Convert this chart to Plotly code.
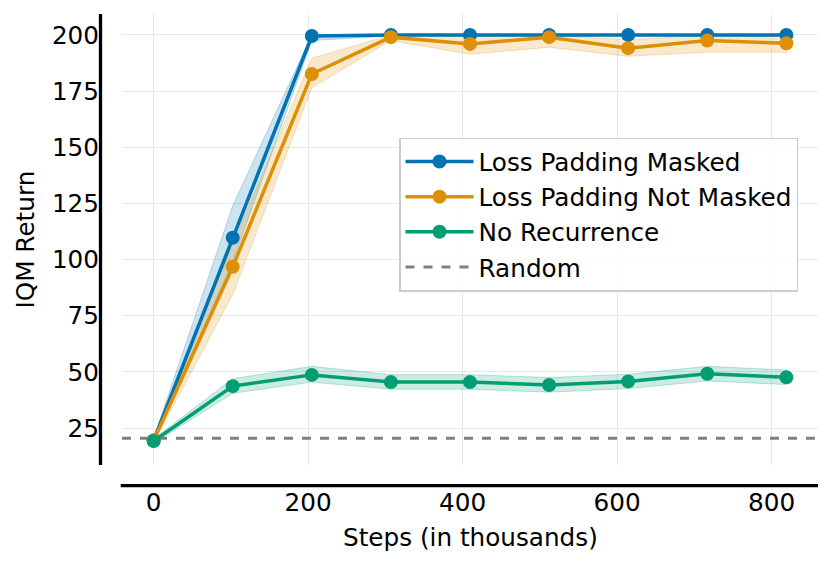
import plotly.graph_objects as go

steps = [0, 102.4, 204.8, 307.2, 409.6, 512.0, 614.4, 716.8, 819.2]

masked_mean = [19.5, 109.7, 199.5, 200.0, 200.0, 200.0, 200.0, 200.0, 200.0]
masked_low = [18.5, 99.0, 197.5, 199.5, 199.5, 199.5, 199.5, 199.5, 199.5]
masked_high = [20.5, 124.0, 200.0, 200.0, 200.0, 200.0, 200.0, 200.0, 200.0]

notmasked_mean = [19.5, 96.8, 182.6, 199.0, 196.0, 199.0, 194.1, 197.5, 196.3]
notmasked_low = [18.5, 84.5, 176.5, 197.5, 191.4, 194.5, 190.5, 192.3, 192.3]
notmasked_high = [20.5, 107.0, 189.6, 200.0, 199.4, 200.0, 197.8, 200.0, 200.0]

norec_mean = [19.3, 43.7, 48.7, 45.5, 45.5, 44.2, 45.8, 49.2, 47.6]
norec_low = [18.3, 40.5, 45.5, 42.3, 42.3, 41.0, 42.6, 46.0, 44.4]
norec_high = [20.3, 47.0, 52.5, 48.8, 48.8, 47.5, 49.0, 52.5, 50.9]

random_return = 20.5

x_ticks = [0, 200, 400, 600, 800]
y_ticks = [25, 50, 75, 100, 125, 150, 175, 200]

series = [
    ("Loss Padding Masked", masked_mean, masked_low, masked_high, (1, 115, 178)),
    ("Loss Padding Not Masked", notmasked_mean, notmasked_low, notmasked_high, (222, 143, 5)),
    ("No Recurrence", norec_mean, norec_low, norec_high, (2, 158, 115)),
]

FONT = "DejaVu Sans"
FS = 24.7
OFF = 8  # page body margin
W, H = 815, 549
L, R, T, B = 114, 5, 6, 92
PW, PH = W - L - R, H - T - B


def px_x(page_x):
    return (page_x - OFF - L) / PW


def px_y(page_y):
    return (H - B - (page_y - OFF)) / PH


fig = go.Figure()

# bands
for name, mean, low, high, c in series:
    fig.add_trace(go.Scatter(
        x=steps + steps[::-1], y=high + low[::-1],
        mode="lines", fill="toself",
        fillcolor=f"rgba({c[0]},{c[1]},{c[2]},0.2)",
        line=dict(color=f"rgba({c[0]},{c[1]},{c[2]},0.25)", width=1),
        showlegend=False, hoverinfo="skip",
    ))

# random baseline
fig.add_trace(go.Scatter(
    x=[-40.96, 860.16], y=[random_return, random_return],
    mode="lines", name="Random",
    line=dict(color="#808080", width=3, dash="dash"),
    legendrank=4, legendgroup="r",
))

# lines
for i, (name, mean, low, high, c) in enumerate(series):
    col = f"rgb({c[0]},{c[1]},{c[2]})"
    fig.add_trace(go.Scatter(
        x=steps, y=mean, mode="lines+markers", name=name,
        line=dict(color=col, width=3.5),
        marker=dict(color=col, size=14),
        legendrank=i + 1, legendgroup=f"g{i}",
    ))

axis_common = dict(
    showline=False, zeroline=False, showgrid=True,
    gridcolor="#e8e8e8", gridwidth=1,
    tickfont=dict(family=FONT, size=FS, color="black"),
    ticks="",
)

fig.update_layout(
    width=W, height=H,
    margin=dict(l=L, r=R, t=T, b=B, pad=0),
    paper_bgcolor="white", plot_bgcolor="white",
    font=dict(family=FONT, size=FS, color="black"),
    xaxis=dict(range=[-40.96, 860.16], tickvals=x_ticks, ticklabelstandoff=20, **axis_common),
    yaxis=dict(range=[8.6, 209.3], tickvals=y_ticks, ticklabelstandoff=22, **axis_common),
    legend=dict(
        x=px_x(399), y=px_y(137.5), xanchor="left", yanchor="top",
        bgcolor="rgba(255,255,255,0.85)", bordercolor="#cccccc", borderwidth=1.5,
        font=dict(family=FONT, size=FS, color="black"),
        itemwidth=68, tracegroupgap=0,
    ),
    showlegend=True,
)

# offset spines
fig.add_shape(type="line", xref="paper", yref="paper",
              x0=px_x(100.5), x1=px_x(100.5), y0=0, y1=1,
              line=dict(color="black", width=3.3))
fig.add_shape(type="line", xref="paper", yref="paper",
              x0=px_x(120.7), x1=1, y0=px_y(485.7), y1=px_y(485.7),
              line=dict(color="black", width=3.3))

# axis titles
fig.add_annotation(text="Steps (in thousands)", xref="paper", yref="paper",
                   x=0.5, y=px_y(537), xanchor="center", yanchor="middle",
                   showarrow=False, font=dict(family=FONT, size=FS, color="black"))
fig.add_annotation(text="IQM Return", xref="paper", yref="paper",
                   x=px_x(25), y=0.5, xanchor="center", yanchor="middle",
                   textangle=-90, showarrow=False,
                   font=dict(family=FONT, size=FS, color="black"))

fig.write_html("out.html")
